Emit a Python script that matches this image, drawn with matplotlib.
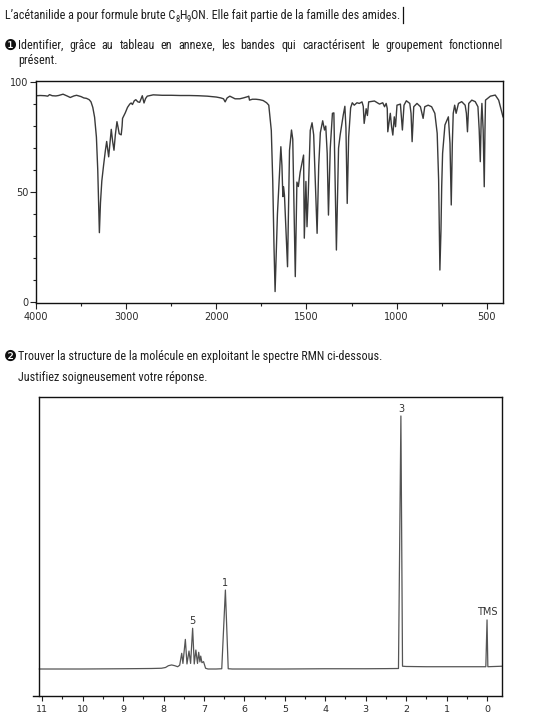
import numpy as np
import matplotlib
matplotlib.use("Agg")
import matplotlib.pyplot as plt
from matplotlib import font_manager as fm
from matplotlib.ticker import FixedLocator, NullFormatter
from matplotlib.lines import Line2D

# IR spectrum (wavenumber cm-1, transmittance %)
ir_wavenumber = [4000, 3950, 3900, 3870, 3850, 3820, 3780, 3750, 3700, 3650, 3620, 3580,
                 3550, 3500, 3470, 3440, 3410, 3390, 3370, 3350, 3330, 3315, 3305, 3297,
                 3285, 3270, 3250, 3230, 3216, 3205, 3194, 3180, 3165, 3150, 3135, 3120,
                 3102, 3090, 3077, 3055, 3045, 3040, 3010, 2985, 2960, 2945, 2930, 2910,
                 2893, 2870, 2850, 2821, 2810, 2802, 2785, 2766, 2700, 2600, 2500, 2400,
                 2300, 2200, 2100, 2020, 2000, 1975, 1960, 1951, 1940, 1925, 1910, 1896,
                 1870, 1850, 1825, 1820, 1816, 1800, 1780, 1760, 1740, 1721, 1709, 1702,
                 1695, 1687, 1680, 1674, 1661, 1650, 1642, 1636, 1631, 1627, 1622, 1605,
                 1598, 1594, 1583, 1576, 1562, 1553, 1545, 1535, 1516, 1512, 1503, 1497,
                 1490, 1479, 1469, 1460, 1441, 1432, 1423, 1410, 1400, 1393, 1385, 1378,
                 1368, 1356, 1348, 1334, 1322, 1313, 1296, 1287, 1281, 1274, 1266, 1255,
                 1246, 1235, 1220, 1207, 1192, 1185, 1180, 1169, 1162, 1155, 1123, 1095,
                 1077, 1067, 1058, 1052, 1049, 1035, 1028, 1021, 1013, 1006, 998, 979,
                 968, 959, 946, 927, 920, 914, 905, 887, 868, 853, 844, 825, 806, 788,
                 775, 767, 760, 754, 750, 745, 732, 713, 704, 697, 691, 686, 678, 670,
                 657, 639, 620, 613, 607, 600, 583, 564, 549, 542, 536, 531, 527, 520,
                 514, 510, 507, 480, 453, 434, 410]
ir_transmittance = [93.8, 93.9, 93.8, 93.6, 94.3, 93.8, 93.7, 93.9, 94.5, 93.6, 93.0, 93.7,
                    94.0, 93.4, 92.8, 92.6, 92.0, 91.0, 88.5, 84.0, 75.0, 60.0, 45.0, 31.5,
                    45.0, 55.0, 62.3, 69.0, 73.0, 69.5, 66.0, 72.0, 78.5, 73.0, 69.0, 76.0,
                    82.0, 79.5, 76.5, 76.0, 80.0, 83.5, 86.0, 88.5, 90.0, 90.5, 89.8, 91.5,
                    92.0, 91.0, 90.8, 93.8, 92.0, 90.5, 92.5, 93.6, 94.2, 94.0, 94.0, 93.9,
                    93.9, 93.8, 93.6, 93.3, 93.2, 92.8, 92.4, 91.0, 92.8, 93.6, 93.0, 92.4,
                    92.4, 92.8, 93.4, 93.6, 91.8, 92.2, 92.2, 92.0, 91.6, 90.6, 89.5, 83.5,
                    78.0, 55.0, 25.0, 4.7, 40.0, 58.0, 70.6, 62.0, 47.9, 52.4, 48.5, 16.0,
                    50.0, 69.0, 78.2, 74.0, 11.5, 54.5, 52.5, 59.0, 66.8, 29.0, 54.8, 34.2,
                    49.0, 78.0, 81.5, 76.0, 31.2, 62.0, 77.0, 82.4, 78.2, 80.0, 67.6, 39.5,
                    70.0, 85.8, 86.0, 23.6, 70.0, 76.0, 85.0, 89.0, 79.0, 44.8, 75.0, 88.3,
                    90.6, 89.5, 90.6, 90.3, 91.0, 89.0, 81.2, 87.9, 84.8, 91.0, 91.4, 90.0,
                    90.6, 88.8, 90.3, 88.0, 77.4, 85.8, 79.7, 75.9, 84.2, 79.7, 89.5, 90.0,
                    78.2, 89.5, 91.5, 90.3, 85.8, 72.9, 88.8, 90.3, 88.8, 83.5, 88.8, 89.5,
                    88.8, 85.8, 76.7, 55.5, 14.5, 32.7, 52.4, 67.6, 80.5, 84.2, 72.1, 44.1,
                    72.1, 85.8, 89.5, 85.8, 90.3, 91.1, 89.5, 85.8, 77.4, 90.3, 91.8, 91.1,
                    88.8, 78.2, 63.8, 82.7, 90.3, 78.2, 52.4, 78.2, 91.8, 93.6, 94.1, 91.8,
                    84.2]
ir_major = [4000, 3000, 2000, 1500, 1000, 500]
ir_minor = [3500, 2500, 1750, 1250, 750]

# 1H NMR spectrum (ppm, relative intensity)
nmr_ppm = [11.07, 10.0, 9.0, 8.3, 8.05, 7.95, 7.88, 7.80, 7.72, 7.65, 7.60, 7.55, 7.52,
           7.46, 7.42, 7.37, 7.33, 7.28, 7.24, 7.20, 7.16, 7.13, 7.10, 7.08, 7.05, 7.01,
           6.96, 6.90, 6.70, 6.56, 6.47, 6.40, 6.30, 5.0, 4.0, 3.0, 2.5, 2.19, 2.13, 2.09,
           2.0, 1.5, 1.0, 0.5, 0.03, 0.0, -0.02, -0.2, -0.37]
nmr_intensity = [0.0, 0.0, 0.1, 0.2, 0.3, 0.6, 1.3, 1.6, 1.3, 0.9, 1.5, 6.2, 2.2,
                 11.7, 2.0, 7.1, 2.2, 16.1, 2.0, 7.5, 2.2, 6.6, 2.8, 5.1, 2.5, 2.9,
                 0.3, 0.0, 0.0, 0.1, 31.2, 0.1, 0.0, 0.0, 0.1, 0.1, 0.15, 0.2, 100.0, 1.1,
                 1.0, 0.9, 0.9, 0.9, 0.9, 19.4, 0.9, 1.0, 1.1]
nmr_labels = ["3", "1", "5", "TMS"]
nmr_label_ppm = [2.13, 6.47, 7.28, 0.0]
nmr_label_height = [100.0, 31.2, 16.1, 19.4]
nmr_ticks = list(range(0, 12))
nmr_minor = [i + 0.5 for i in range(0, 11)]

W, H = 540, 726


# pick a narrow font for the exercise text if one is installed
def pick_text_font():
    narrow = []
    for f in fm.fontManager.ttflist:
        tag = (f.name + ' ' + str(f.stretch)).lower()
        if ('condensed' in tag or 'narrow' in tag) and f.style == 'normal' \
                and f.weight in (400, 'normal', 'regular', 'book') \
                and 'extra' not in tag and 'ultra' not in tag:
            narrow.append(f)
    for pref in ['Liberation Sans Narrow', 'Roboto Condensed', 'Open Sans Condensed',
                 'Noto Sans', 'DejaVu Sans', 'Lato', 'Inter']:
        for f in narrow:
            if f.name.startswith(pref):
                return fm.FontProperties(fname=f.fname)
    if narrow:
        return fm.FontProperties(fname=narrow[0].fname)
    return fm.FontProperties(family='Liberation Sans')


text_font = pick_text_font()

fig = plt.figure(figsize=(W / 100, H / 100), dpi=100)
fig.patch.set_facecolor('white')


def px(x0, y0, x1, y1):
    return [x0 / W, 1 - y1 / H, (x1 - x0) / W, (y1 - y0) / H]


tick_color = '#2a2a2a'


def ir_fwd(w):
    w = np.asarray(w, dtype=float)
    return np.where(w >= 2000, w - 4000, 2 * w - 6000)


def ir_inv(u):
    u = np.asarray(u, dtype=float)
    return np.where(u >= -2000, u + 4000, (u + 6000) / 2)


# ---- IR
ax1 = fig.add_axes(px(36, 81, 503, 303))
ax1.plot(ir_wavenumber, ir_transmittance, color='#3a3a3a', lw=1.0)
ax1.set_xscale('function', functions=(ir_fwd, ir_inv))
ax1.set_xlim(4000, 410)
ax1.set_ylim(-0.5, 100.5)
ax1.xaxis.set_major_locator(FixedLocator(ir_major))
ax1.xaxis.set_minor_locator(FixedLocator(ir_minor))
ax1.xaxis.set_minor_formatter(NullFormatter())
ax1.set_xticklabels([str(v) for v in ir_major])
ax1.yaxis.set_major_locator(FixedLocator([0, 50, 100]))
ax1.yaxis.set_minor_locator(FixedLocator(list(range(10, 100, 10))))
ax1.tick_params(which='major', direction='out', length=4.5, width=0.8, colors='#222',
                labelsize=7, labelcolor=tick_color, pad=2)
ax1.tick_params(which='minor', direction='out', length=2.5, width=0.8, colors='#222')
ax1.tick_params(axis='y', pad=1)
for lab in ax1.get_xticklabels() + ax1.get_yticklabels():
    lab.set_family('DejaVu Sans')
for s in ax1.spines.values():
    s.set_linewidth(1.0)
    s.set_color('#111')

# ---- NMR
ax2 = fig.add_axes(px(33.3, 397, 502, 696))
ax2.plot(nmr_ppm, nmr_intensity, color='#555555', lw=0.9)
ax2.set_xlim(11.22, -0.37)
ax2.set_ylim(-10.67, 107.5)
ax2.xaxis.set_major_locator(FixedLocator(nmr_ticks))
ax2.xaxis.set_minor_locator(FixedLocator(nmr_minor))
ax2.xaxis.set_minor_formatter(NullFormatter())
ax2.set_xticklabels([str(v) for v in nmr_ticks])
ax2.set_yticks([])
ax2.tick_params(which='major', direction='out', length=3.5, width=0.8, colors='#222',
                labelsize=6.8, labelcolor=tick_color, pad=3)
ax2.tick_params(which='minor', direction='out', length=2.5, width=0.8, colors='#222')
for lab in ax2.get_xticklabels():
    lab.set_family('DejaVu Sans')
for s in ax2.spines.values():
    s.set_linewidth(1.0)
    s.set_color('#111')
ax2.spines['left'].set_position(('data', 11.07))
ax2.spines['top'].set_bounds(11.07, -0.37)

for lab, xp, yp in zip(nmr_labels, nmr_label_ppm, nmr_label_height):
    ax2.annotate(lab, (xp, yp), xytext=(0, 3.2), textcoords='offset points',
                 ha='center', va='baseline', fontsize=7, color='#333',
                 family='DejaVu Sans')

# ---- texts
fig.canvas.draw()
renderer = fig.canvas.get_renderer()
txt_color = '#1e1e1e'


def run_widths(runs, size):
    out = []
    for s, k, dy in runs:
        t = fig.text(0, 0, s, fontproperties=text_font, fontsize=size * k)
        out.append(t.get_window_extent(renderer).width)
        t.remove()
    return out


def place_runs(x0, y0, runs, size, gap=0.0):
    widths = run_widths(runs, size)
    x = x0
    for (s, k, dy), w in zip(runs, widths):
        fig.text(x / W, 1 - (y0 + dy) / H, s, fontproperties=text_font, fontsize=size * k,
                 va='baseline', ha='left', color=txt_color)
        x += w + gap
    return x


line1_runs = [("L’acétanilide a pour formule brute C", 1, 0), ("8", 0.7, 2.5),
              ("H", 1, 0), ("9", 0.7, 2.5),
              ("ON. Elle fait partie de la famille des amides.", 1, 0)]
fs = 10 * 395 / sum(run_widths(line1_runs, 10))
place_runs(5, 19, line1_runs, fs)
fig.add_artist(Line2D([402.5 / W, 402.5 / W], [1 - 7 / H, 1 - 23 / H], color='#111', lw=0.9))

# justified line
words = "Identifier, grâce au tableau en annexe, les bandes qui caractérisent le groupement fonctionnel".split()
wruns = [(wd, 1, 0) for wd in words]
wsum = sum(run_widths(wruns, fs))
place_runs(18, 49, wruns, fs, gap=(503 - 18 - wsum) / (len(words) - 1))

place_runs(18, 64, [("présent.", 1, 0)], fs)
place_runs(18, 360, [("Trouver la structure de la molécule en exploitant le spectre RMN ci-dessous.", 1, 0)], fs)
place_runs(18, 381, [("Justifiez soigneusement votre réponse.", 1, 0)], fs)
for yb, ch in [(45, '❶'), (356, '❷')]:
    fig.text(10.5 / W, 1 - yb / H, ch, fontsize=fs * 1.2, va='center', ha='center',
             color='#111', family='DejaVu Sans')

fig.savefig('out.png', dpi=100)
